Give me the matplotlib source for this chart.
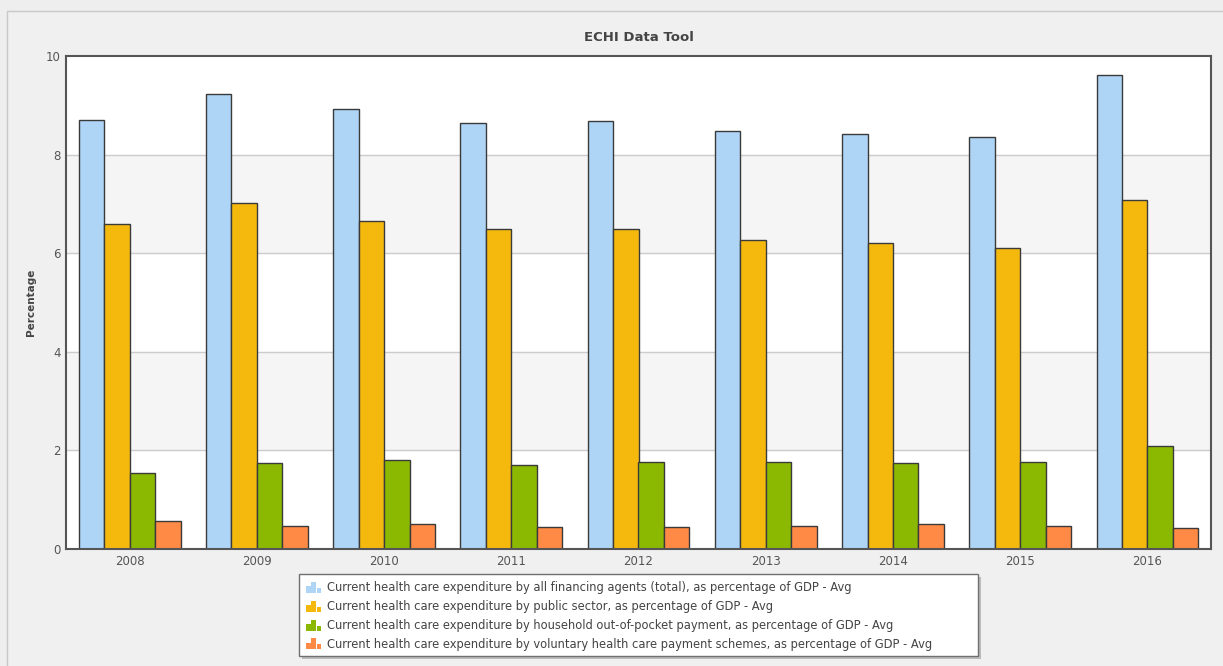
import matplotlib
matplotlib.use("Agg")
import matplotlib.pyplot as plt
from matplotlib.patches import Rectangle
from matplotlib.container import BarContainer
from matplotlib.legend_handler import HandlerBase
import numpy as np

years = ["2008", "2009", "2010", "2011", "2012", "2013", "2014", "2015", "2016"]
total = [8.70, 9.23, 8.92, 8.64, 8.68, 8.48, 8.42, 8.36, 9.61]
public = [6.59, 7.02, 6.65, 6.49, 6.49, 6.27, 6.21, 6.10, 7.08]
household = [1.54, 1.74, 1.80, 1.70, 1.76, 1.76, 1.74, 1.76, 2.09]
voluntary = [0.57, 0.46, 0.50, 0.45, 0.45, 0.47, 0.50, 0.47, 0.43]

labels = [
    "Current health care expenditure by all financing agents (total), as percentage of GDP - Avg",
    "Current health care expenditure by public sector, as percentage of GDP - Avg",
    "Current health care expenditure by household out-of-pocket payment, as percentage of GDP - Avg",
    "Current health care expenditure by voluntary health care payment schemes, as percentage of GDP - Avg",
]
colors = ["#aed5f6", "#f5b90e", "#8bb902", "#ff8a45"]
series = [total, public, household, voluntary]


class BarIcon(HandlerBase):
    # small three-bar icon like the original legend
    def create_artists(self, legend, orig, xd, yd, w, h, fs, trans):
        c = orig.patches[0].get_facecolor()
        arts = []
        bw = w / 3.3
        for i, hh in enumerate([0.6, 1.0, 0.45]):
            r = Rectangle((-xd + i * bw * 1.15, -yd), bw, h * hh, facecolor=c,
                          edgecolor="none", transform=trans)
            arts.append(r)
        return arts


fig = plt.figure(figsize=(12.23, 6.66), dpi=100)
fig.patch.set_facecolor("#eeeeee")
fig.patches.append(Rectangle((7 / 1223, -0.01), 1.02, 1 - 11 / 666 + 0.01,
                             transform=fig.transFigure, facecolor="#f0f0f0",
                             edgecolor="#c8c8c8", lw=1, zorder=-10))

ax = fig.add_axes([66 / 1223, 1 - 549 / 666, (1211 - 66) / 1223, (549 - 56) / 666])
ax.set_facecolor("white")
for lo in [2, 6]:
    ax.axhspan(lo, lo + 2, color="#f5f5f5", zorder=0)
for g in [2, 4, 6, 8]:
    ax.axhline(g, color="#cccccc", lw=1, zorder=0.5)

x = np.arange(len(years))
offsets = [-0.3, -0.1, 0.1, 0.3]
for vals, col, off, lab in zip(series, colors, offsets, labels):
    ax.bar(x + off, vals, width=0.2, color=col, edgecolor="#3a3a3a",
           linewidth=1, label=lab, zorder=2)

ax.set_xlim(-0.5, len(years) - 0.5)
ax.set_ylim(0, 10)
ax.set_xticks(x)
ax.set_xticklabels(years)
ax.set_yticks([0, 2, 4, 6, 8, 10])
ax.tick_params(axis="both", length=0, labelsize=8.5, colors="#555555", pad=4)
for s in ax.spines.values():
    s.set_color("#555555")
    s.set_linewidth(1.5)

ax.set_title("ECHI Data Tool", fontsize=9.5, fontweight="bold", color="#444444", pad=11)
ax.set_ylabel("Percentage", fontsize=7.5, fontweight="bold", color="#444444", labelpad=7)

# legend box drawn by hand (it is wider than the text in the original)
W, H = 1223, 666
bx0, by0, bx1, by1 = 299, 574, 978, 656
fig.patches.append(Rectangle(((bx0 + 3) / W, 1 - (by1 + 3) / H), (bx1 - bx0) / W, (by1 - by0) / H,
                             transform=fig.transFigure, facecolor="#9a9a9a",
                             edgecolor="none", alpha=0.6, zorder=1))
fig.patches.append(Rectangle((bx0 / W, 1 - by1 / H), (bx1 - bx0) / W, (by1 - by0) / H,
                             transform=fig.transFigure, facecolor="white",
                             edgecolor="#707070", lw=1, zorder=2))

handles, labs = ax.get_legend_handles_labels()
leg = fig.legend(handles, labs, loc="upper left",
                 bbox_to_anchor=(303 / W, 1 - 578 / H),
                 fontsize=8.3, frameon=False,
                 handlelength=1.25, handleheight=1.1,
                 handletextpad=0.55, labelspacing=0.5, borderpad=0.3,
                 borderaxespad=0,
                 handler_map={BarContainer: BarIcon()})
leg.set_zorder(3)
for t in leg.get_texts():
    t.set_color("#444444")

fig.savefig("out.png", dpi=100, facecolor=fig.get_facecolor())
